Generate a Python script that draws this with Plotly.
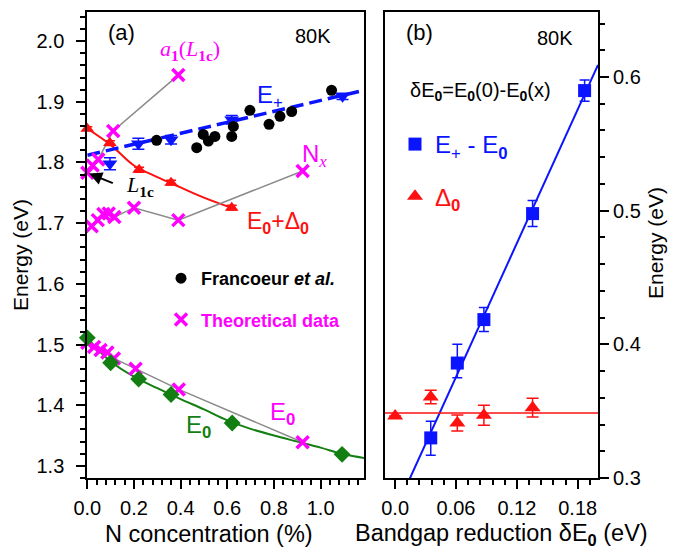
import plotly.graph_objects as go

W, H = 696, 548
FONT = "Liberation Sans"
SERIF = "Liberation Serif"
BLUE = "#0a14ff"
RED = "#ff1010"
MAG = "#ff00ff"
GREEN = "#137f13"
GRAY = "#8a8a8a"

# ---------------- Panel (a) data ----------------
# experimental E0 (green diamonds)
e0_x = [0.0, 0.100, 0.220, 0.359, 0.621, 1.092]
e0_y = [1.511, 1.470, 1.443, 1.4175, 1.3707, 1.319]
# E0 fit curve
e0fit_x = [0.0, 0.05, 0.1, 0.2, 0.3, 0.4, 0.5, 0.6, 0.7, 0.8, 0.9, 1.0, 1.1, 1.186]
e0fit_y = [1.511, 1.490, 1.472, 1.447, 1.428, 1.410, 1.393, 1.375, 1.361, 1.350, 1.340, 1.330, 1.319, 1.313]

# E0 + Delta0 (red triangles)
so_x = [0.0, 0.097, 0.222, 0.359, 0.619]
so_y = [1.8557, 1.832, 1.788, 1.7667, 1.7255]
so_err = [0.003, 0.004, 0.004, 0.004, 0.004]
sofit_x = [0.0, 0.1, 0.2, 0.3, 0.4, 0.5, 0.62]
sofit_y = [1.856, 1.829, 1.795, 1.776, 1.759, 1.742, 1.725]

# E+ (blue down triangles)
ep_x = [0.097, 0.219, 0.359, 0.619, 1.094]
ep_y = [1.798, 1.831, 1.8376, 1.8705, 1.909]
ep_err = [0.010, 0.009, 0.007, 0.007, 0.005]
epfit_x = [0.0, 1.186]
epfit_y = [1.812, 1.919]

# Francoeur et al. (black circles)
fr_x = [0.297, 0.469, 0.497, 0.519, 0.547, 0.619, 0.626, 0.697, 0.779, 0.826, 0.876, 1.047]
fr_y = [1.8365, 1.8244, 1.8463, 1.8354, 1.843, 1.843, 1.8595, 1.886, 1.8628, 1.876, 1.884, 1.919]

# Theoretical data (magenta crosses)
th_e0_x = [0.0, 0.029, 0.057, 0.086, 0.114, 0.207, 0.392, 0.923]
th_e0_y = [1.503, 1.496, 1.491, 1.487, 1.477, 1.460, 1.426, 1.339]
th_nx_x = [0.019, 0.045, 0.069, 0.092, 0.116, 0.200, 0.390, 0.923]
th_nx_y = [1.695, 1.705, 1.715, 1.716, 1.710, 1.7255, 1.705, 1.786]
th_a1_x = [0.0, 0.023, 0.047, 0.111, 0.390]
th_a1_y = [1.783, 1.795, 1.805, 1.852, 1.944]

# ---------------- Panel (b) data ----------------
dE_x = [0.0351, 0.0613, 0.0875, 0.1355, 0.1868]
dE_y = [0.330, 0.386, 0.4185, 0.4978, 0.5898]
dE_up = [0.0125, 0.014, 0.009, 0.0097, 0.008]
dE_dn = [0.013, 0.011, 0.009, 0.0097, 0.008]
dEfit_x = [0.0, 0.2]
dEfit_y = [0.2755, 0.609]

d0_x = [0.0, 0.0351, 0.0613, 0.0875, 0.1355]
d0_y = [0.3464, 0.3606, 0.3411, 0.3469, 0.3526]
d0_err = [0.0, 0.005, 0.006, 0.0075, 0.007]
d0fit_x = [-0.01, 0.2]
d0fit_y = [0.3486, 0.3486]

fig = go.Figure()

# ---- panel (a) traces ----
fig.add_trace(go.Scatter(x=e0fit_x, y=e0fit_y, mode="lines", line=dict(color=GREEN, width=2, shape="spline"),
                         showlegend=False, xaxis="x", yaxis="y"))
fig.add_trace(go.Scatter(x=sofit_x, y=sofit_y, mode="lines", line=dict(color=RED, width=2, shape="spline"),
                         showlegend=False, xaxis="x", yaxis="y"))
fig.add_trace(go.Scatter(x=epfit_x, y=epfit_y, mode="lines", line=dict(color=BLUE, width=3.5, dash="13px,6px"),
                         showlegend=False, xaxis="x", yaxis="y"))
for tx, ty in [(th_e0_x, th_e0_y), (th_nx_x, th_nx_y), (th_a1_x, th_a1_y)]:
    fig.add_trace(go.Scatter(x=tx, y=ty, mode="lines+markers", line=dict(color=GRAY, width=1.5),
                             marker=dict(symbol="x-thin", size=12, line=dict(color=MAG, width=3.5)),
                             cliponaxis=False, showlegend=False, xaxis="x", yaxis="y"))
fig.add_trace(go.Scatter(x=e0_x, y=e0_y, mode="markers", marker=dict(symbol="diamond", size=13, color=GREEN),
                         cliponaxis=False, showlegend=False, xaxis="x", yaxis="y"))
fig.add_trace(go.Scatter(x=so_x, y=so_y, mode="markers", marker=dict(symbol="triangle-up", size=12, color=RED),
                         error_y=dict(type="data", array=so_err, color=RED, thickness=1.5, width=5),
                         cliponaxis=False, showlegend=False, xaxis="x", yaxis="y"))
fig.add_trace(go.Scatter(x=ep_x, y=ep_y, mode="markers", marker=dict(symbol="triangle-down", size=13, color=BLUE),
                         error_y=dict(type="data", array=ep_err, color=BLUE, thickness=1.5, width=6),
                         cliponaxis=False, showlegend=False, xaxis="x", yaxis="y"))
fig.add_trace(go.Scatter(x=fr_x, y=fr_y, mode="markers", marker=dict(symbol="circle", size=11, color="black"),
                         name="<b>Francoeur <i>et al.</i></b>", legend="legend", legendgroup="fr",
                         cliponaxis=False, xaxis="x", yaxis="y"))
fig.add_trace(go.Scatter(x=[None], y=[None], mode="markers",
                         marker=dict(symbol="x-thin", size=12, line=dict(color=MAG, width=3.5)),
                         name="<b><span style='color:#ff00ff'>Theoretical data</span></b>",
                         legend="legend", legendgroup="th", xaxis="x", yaxis="y"))

# ---- panel (b) traces ----
fig.add_trace(go.Scatter(x=dEfit_x, y=dEfit_y, mode="lines", line=dict(color=BLUE, width=2),
                         showlegend=False, xaxis="x2", yaxis="y2"))
fig.add_trace(go.Scatter(x=d0fit_x, y=d0fit_y, mode="lines", line=dict(color=RED, width=1.5),
                         showlegend=False, xaxis="x2", yaxis="y2"))
fig.add_trace(go.Scatter(x=dE_x, y=dE_y, mode="markers", marker=dict(symbol="square", size=13, color=BLUE),
                         error_y=dict(type="data", array=dE_up, arrayminus=dE_dn, color=BLUE, thickness=1.5, width=5),
                         name="<span style='color:#0a14ff'>E<sub>+</sub> - E<sub><b>0</b></sub></span>",
                         legend="legend2", legendgroup="a", cliponaxis=False, xaxis="x2", yaxis="y2"))
fig.add_trace(go.Scatter(x=d0_x, y=d0_y, mode="markers", marker=dict(symbol="triangle-up", size=14, color=RED),
                         error_y=dict(type="data", array=d0_err, color=RED, thickness=1.5, width=6),
                         name="<span style='color:#ff1010'>Δ<sub><b>0</b></sub></span>",
                         legend="legend2", legendgroup="b", cliponaxis=False, xaxis="x2", yaxis="y2"))


def px(x):
    return x / W


def py(y):
    return 1 - y / H


def ann(text, x, y, size, color="black", family=FONT, angle=0):
    return dict(text=text, x=px(x), y=py(y), xref="paper", yref="paper", showarrow=False,
                xanchor="center", yanchor="middle", textangle=angle,
                font=dict(family=family, size=size, color=color))


annotations = [
    ann("(a)", 121, 32, 22),
    ann("80K", 313, 36, 20),
    ann("<i>a</i><sub><b>1</b></sub>(<i>L</i><sub><b>1c</b></sub>)", 190, 50, 22, MAG, SERIF),
    ann("E<sub>+</sub>", 270, 96, 24, BLUE),
    ann("N<sub><span style='font-family:Liberation Serif'><i>x</i></span></sub>", 314, 155, 24, MAG),
    ann("<i>L</i><sub><b>1c</b></sub>", 140, 186, 22, "black", SERIF),
    ann("E<sub><b>0</b></sub>+Δ<sub><b>0</b></sub>", 278, 222, 23, RED),
    ann("E<sub><b>0</b></sub>", 282, 413, 24, MAG),
    ann("E<sub><b>0</b></sub>", 198, 426, 24, GREEN),
    ann("Energy (eV)", 20, 255, 21, angle=-90),
    ann("N concentration (%)", 209, 534, 23.5),
    ann("(b)", 419, 32, 22),
    ann("80K", 555, 38, 20),
    ann("δE<sub><b>0</b></sub>=E<sub><b>0</b></sub>(0)-E<sub><b>0</b></sub>(x)", 480, 91, 20),
    ann("Energy (eV)", 656, 243, 21, angle=-90),
    ann("Bandgap reduction δE<sub><b>0</b></sub> (eV)", 501, 534, 23.5),
    dict(text="", x=0.0, y=1.783, xref="x", yref="y", showarrow=True, arrowhead=2, arrowsize=1.3,
         arrowwidth=2, arrowcolor="black", ax=27, ay=11, standoff=2),
]

axis_common = dict(showline=True, linewidth=2, linecolor="black", mirror=True, ticks="outside",
                   tickwidth=2, ticklen=9, tickcolor="black", showgrid=False, zeroline=False,
                   automargin=False,
                   tickfont=dict(family=FONT, size=20, color="black"))

minor_common = dict(ticklen=5, tickwidth=1.5, ticks="outside", tickcolor="black")

fig.update_layout(
    width=W, height=H, margin=dict(l=0, r=0, t=0, b=0, autoexpand=False),
    paper_bgcolor="white", plot_bgcolor="white",
    font=dict(family=FONT, color="black"),
    xaxis=dict(domain=[87.3 / W, 364 / W], range=[0, 1.186], anchor="y", dtick=0.2, tick0=0,
               tickformat=".1f", ticklabelstandoff=2,
               minor=dict(dtick=0.04, tick0=0, **minor_common), **axis_common),
    yaxis=dict(domain=[1 - 478 / H, 1 - 12 / H], range=[1.28, 2.048], anchor="x", dtick=0.1, tick0=1.3,
               tickformat=".1f", ticklabelstandoff=8,
               minor=dict(dtick=0.02, tick0=1.3, **minor_common), **axis_common),
    xaxis2=dict(domain=[385 / W, 598 / W], range=[-0.01, 0.2], anchor="y2",
                tickvals=[0, 0.06, 0.12, 0.18], ticktext=["0.0", "0.06", "0.12", "0.18"],
                ticklabelstandoff=2,
                minor=dict(dtick=0.012, tick0=0, **minor_common), **axis_common),
    yaxis2=dict(domain=[1 - 478 / H, 1 - 12 / H], range=[0.3, 0.6486], anchor="x2", side="right",
                dtick=0.1, tick0=0.3, tickformat=".1f",
                minor=dict(dtick=0.02, tick0=0.3, **minor_common), **axis_common),
    legend=dict(x=161 / W, y=1 - 260 / H, xanchor="left", yanchor="top", bgcolor="rgba(0,0,0,0)",
                font=dict(family=FONT, size=18, color="black"), traceorder="grouped", tracegroupgap=15,
                itemsizing="trace"),
    legend2=dict(x=395 / W, y=1 - 122 / H, xanchor="left", yanchor="top", bgcolor="rgba(0,0,0,0)",
                 font=dict(family=FONT, size=24, color="black"), traceorder="grouped", tracegroupgap=18,
                 itemsizing="trace"),
    annotations=annotations,
)

fig.write_html("out.html")
